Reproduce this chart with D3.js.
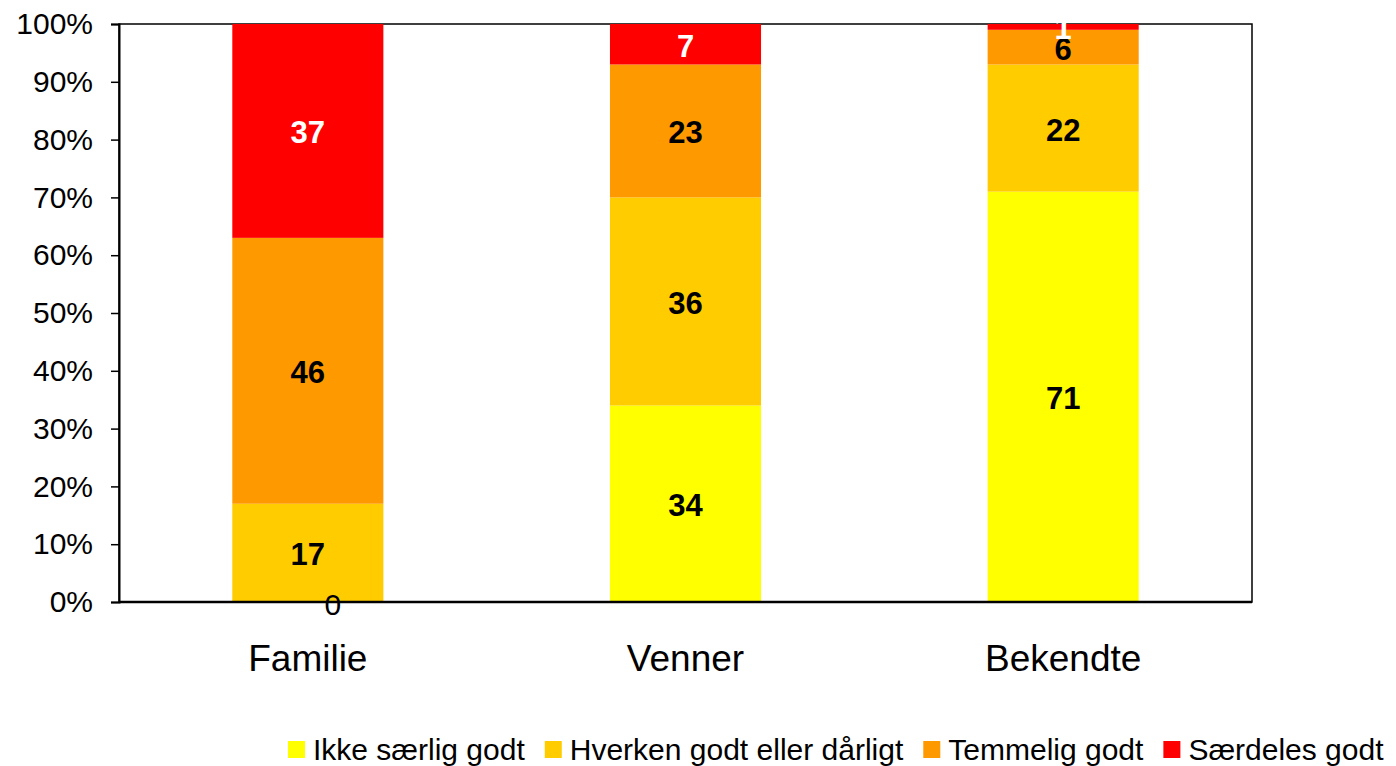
<!DOCTYPE html>
<html>
<head>
<meta charset="utf-8">
<script src="https://cdn.jsdelivr.net/npm/d3@7"></script>
<style>
  body { margin: 0; background: #fff; }
  text { font-family: "Liberation Sans", Arial, Helvetica, sans-serif; }
</style>
</head>
<body>
<script>
// categories and stacked series (percent)
const categories = ['Familie', 'Venner', 'Bekendte']
const seriesNames = ['Ikke særlig godt', 'Hverken godt eller dårligt', 'Temmelig godt', 'Særdeles godt']
const ikkeSaerligGodt = [0, 34, 71]
const hverkenGodt = [17, 36, 22]
const temmeligGodt = [46, 23, 6]
const saerdelesGodt = [37, 7, 1]
const yTicks = [0, 10, 20, 30, 40, 50, 60, 70, 80, 90, 100]

const colors = ['#FFFF00', '#FFCC00', '#FF9900', '#FF0000']
const labelColors = ['#000', '#000', '#000', '#fff']

const layout = { width: 1396, height: 766, left: 119, right: 1252, top: 24, bottom: 602 }

const rows = categories.map((c, i) => ({
    cat: c,
    [seriesNames[0]]: ikkeSaerligGodt[i],
    [seriesNames[1]]: hverkenGodt[i],
    [seriesNames[2]]: temmeligGodt[i],
    [seriesNames[3]]: saerdelesGodt[i]
}))

const stack = d3.stack().keys(seriesNames)(rows)

const svg = d3.select('body').append('svg')
    .attr('width', layout.width)
    .attr('height', layout.height)

const x = d3.scaleBand().domain(categories)
    .range([layout.left, layout.right])
    .paddingInner(0.6).paddingOuter(0.3)
const y = d3.scaleLinear().domain([0, 100]).range([layout.bottom, layout.top])

// frame
svg.append('rect')
    .attr('x', layout.left).attr('y', layout.top)
    .attr('width', layout.right - layout.left).attr('height', layout.bottom - layout.top)
    .attr('fill', 'none').attr('stroke', '#000').attr('stroke-width', 1.5)

// bars
const layers = svg.append('g').selectAll('g')
    .data(stack)
    .enter().append('g')
    .attr('fill', (d, i) => colors[i])

layers.selectAll('rect')
    .data(d => d)
    .enter().append('rect')
    .attr('x', d => x(d.data.cat))
    .attr('width', x.bandwidth())
    .attr('y', d => y(d[1]))
    .attr('height', d => y(d[0]) - y(d[1]))

// value labels
stack.forEach((layer, si) => {
    layer.forEach(d => {
        const v = d[1] - d[0]
        const isZero = v === 0
        svg.append('text')
            .attr('x', x(d.data.cat) + x.bandwidth() / 2 + (isZero ? 25 : 0))
            .attr('y', y((d[0] + d[1]) / 2) + (isZero ? 2 : 2))
            .attr('text-anchor', 'middle')
            .attr('dominant-baseline', 'central')
            .attr('font-size', isZero ? 30 : 31)
            .attr('font-weight', isZero ? 'normal' : 'bold')
            .attr('fill', labelColors[si])
            .text(v)
    })
})

// y axis
const yAxis = svg.append('g')
    .attr('transform', `translate(${layout.left},0)`)
    .call(d3.axisLeft(y).tickValues(yTicks).tickFormat(d => d + '%').tickSize(8).tickPadding(18))
yAxis.select('.domain').attr('stroke', '#000').attr('stroke-width', 2)
yAxis.selectAll('.tick line').attr('stroke', '#000').attr('stroke-width', 1.5)
yAxis.selectAll('text').attr('font-size', 30).attr('fill', '#000')
    .style('font-family', '"Liberation Sans", Arial, sans-serif')

// x axis line and labels
svg.append('line')
    .attr('x1', layout.left).attr('x2', layout.right)
    .attr('y1', layout.bottom).attr('y2', layout.bottom)
    .attr('stroke', '#000').attr('stroke-width', 2.5)

svg.append('g').selectAll('text')
    .data(categories)
    .enter().append('text')
    .attr('x', d => x(d) + x.bandwidth() / 2)
    .attr('y', 671)
    .attr('text-anchor', 'middle')
    .attr('font-size', 37)
    .attr('fill', '#000')
    .text(d => d)

// legend
const legend = svg.append('g').attr('transform', 'translate(288,760)')
let lx = 0
seriesNames.forEach((name, i) => {
    legend.append('rect')
        .attr('x', lx).attr('y', -19)
        .attr('width', 17).attr('height', 17)
        .attr('fill', colors[i])
    const t = legend.append('text')
        .attr('x', lx + 25)
        .attr('y', 0)
        .attr('font-size', 30)
        .attr('fill', '#000')
        .text(name)
    lx += 25 + t.node().getComputedTextLength() + 20
})
</script>
</body>
</html>
